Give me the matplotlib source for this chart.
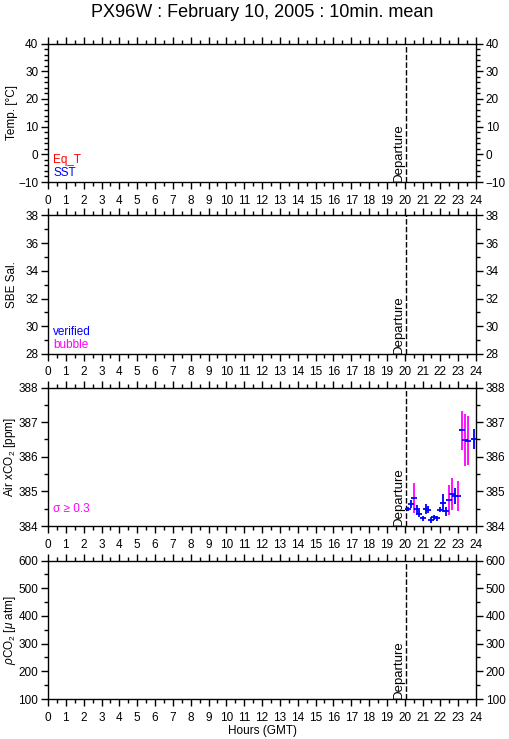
import numpy as np
import matplotlib
matplotlib.use("Agg")
import matplotlib.pyplot as plt
from matplotlib.ticker import MultipleLocator

plt.rcParams['font.family'] = ['Liberation Sans', 'DejaVu Sans']
plt.rcParams['mathtext.fontset'] = 'custom'
plt.rcParams['mathtext.rm'] = 'Liberation Sans'
plt.rcParams['mathtext.it'] = 'Liberation Sans:italic'

# 10分平均の大気xCO2 (時刻 GMT)
hours = [20.17, 20.33, 20.50, 20.67, 20.83, 21.00, 21.17, 21.33, 21.50, 21.67, 21.83,
         22.00, 22.17, 22.33, 22.50, 22.67, 22.83, 23.00, 23.20, 23.37, 23.53, 23.87]
air_xco2 = [384.49, 384.64, 384.81, 384.49, 384.35, 384.22, 384.49, 384.47, 384.17, 384.25, 384.22,
            384.47, 384.66, 384.42, 384.75, 384.92, 384.88, 384.86, 386.76, 386.48, 386.46, 386.52]
sigma = [0.06, 0.12, 0.42, 0.13, 0.10, 0.08, 0.15, 0.10, 0.08, 0.07, 0.07,
         0.07, 0.26, 0.12, 0.43, 0.46, 0.23, 0.43, 0.55, 0.76, 0.71, 0.29]
sigma_limit = 0.3
departure = 20.08

xticks = list(range(0, 25))

# パネル設定: (ylabel, ymin, ymax, major, minor)
panels = [
    ("Temp. [°C]", -10, 40, 10, 2),
    ("SBE Sal.", 28, 38, 2, 1),
    ("Air xCO$_2$ [ppm]", 384, 388, 1, 0.5),
    ("$\\rho$CO$_2$ [$\\mu$ atm]", 100, 600, 100, 50),
]
bottoms = [0.7537, 0.5210, 0.2882, 0.0541]

fig = plt.figure(figsize=(5.09, 7.39), dpi=100)
axes = []
for (label, lo, hi, major, minor), b in zip(panels, bottoms):
    ax = fig.add_axes([0.0943, b, 0.8409, 0.1874])
    ax.set_xlim(0, 24)
    ax.set_ylim(lo, hi)
    ax.set_xticks(xticks)
    ax.xaxis.set_minor_locator(MultipleLocator(0.5))
    ax.yaxis.set_major_locator(MultipleLocator(major))
    ax.yaxis.set_minor_locator(MultipleLocator(minor))
    ax.tick_params(which='both', direction='out', top=True, right=True,
                   labelright=True, labelsize=8.5, width=1.0, pad=2)
    ax.tick_params(which='major', length=5)
    ax.tick_params(which='minor', length=3)
    ax.tick_params(axis='x', pad=4)
    for s in ax.spines.values():
        s.set_linewidth(1.0)
    ax.set_ylabel(label, fontsize=8.5)
    ax.yaxis.set_label_coords(-0.07, 0.5)
    ax.axvline(departure, color='black', lw=1.0, ls=(0, (4, 1.5)))
    ax.text(departure - 0.05, lo, "Departure", rotation=90, ha='right', va='bottom',
            fontsize=9.5)
    axes.append(ax)

ax1, ax2, ax3, ax4 = axes

ax1.text(0.012, 0.14, "Eq_T", color='red', transform=ax1.transAxes, fontsize=8.5)
ax1.text(0.012, 0.045, "SST", color='blue', transform=ax1.transAxes, fontsize=8.5)
ax2.text(0.012, 0.14, "verified", color='blue', transform=ax2.transAxes, fontsize=8.5)
ax2.text(0.012, 0.045, "bubble", color='magenta', transform=ax2.transAxes, fontsize=8.5)
ax3.text(0.012, 0.1, "σ ≥ 0.3", color='magenta', transform=ax3.transAxes, fontsize=8.5)

# 誤差棒 (σ ≥ 0.3 はマゼンタ)
for h, v, s in zip(hours, air_xco2, sigma):
    c = 'magenta' if s >= sigma_limit else 'blue'
    ax3.vlines(h, v - s, v + s, color=c, lw=1.3, clip_on=False)
ax3.plot(hours, air_xco2, ls='none', marker='_', ms=4, mew=1.3, color='blue')

ax4.set_xlabel("Hours (GMT)", fontsize=8.5, labelpad=1)
fig.suptitle("PX96W : February 10, 2005 : 10min. mean", x=0.515, y=0.995,
             va='top', fontsize=13)

fig.savefig("out.png", dpi=100)
